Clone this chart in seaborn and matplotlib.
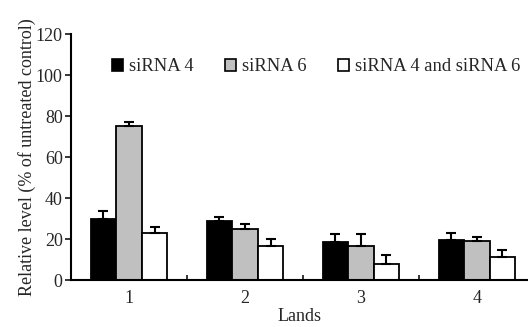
import numpy as np
import pandas as pd
import matplotlib
matplotlib.use("Agg")
import matplotlib.pyplot as plt
import seaborn as sns
from matplotlib.patches import Patch

lands = ["1", "2", "3", "4"]
series = ["siRNA 4", "siRNA 6", "siRNA 4 and siRNA 6"]
sirna4 = [30, 29, 18.5, 19.5]
sirna6 = [75, 25, 16.5, 19]
both = [23, 16.5, 8, 11]
err4 = [3.5, 1.5, 4, 3.5]
err6 = [2, 2.2, 6, 2]
err_both = [3, 3.5, 4, 3.5]

colors = ["#000000", "#c0c0c0", "#ffffff"]

sns.set_theme(style="white")
plt.rcParams["font.family"] = ["Liberation Serif", "DejaVu Serif"]

df = pd.DataFrame({
    "land": lands * 3,
    "series": np.repeat(series, 4),
    "value": sirna4 + sirna6 + both,
})
errs = [err4, err6, err_both]

fig = plt.figure(figsize=(5.28, 3.27), dpi=100)
ax = fig.add_axes([0.1345, 0.1437, 0.8655, 0.7523])

sns.barplot(data=df, x="land", y="value", hue="series", hue_order=series,
            palette=colors, width=0.66, gap=0, edgecolor="black", linewidth=1.3,
            errorbar=None, legend=False, ax=ax)

# one-sided error bars on top of each bar
for cont, e in zip(ax.containers, errs):
    xs = [b.get_x() + b.get_width() / 2 for b in cont]
    hs = [b.get_height() for b in cont]
    ax.errorbar(xs, hs, yerr=[np.zeros(len(e)), e], fmt="none",
                ecolor="black", elinewidth=1.5, capsize=3.5, capthick=1.5)

ax.set_xlim(-0.5, 3.44)
ax.set_ylim(0, 120)
ax.set_yticks(range(0, 121, 20))
ax.set_xticks([0.5, 1.5, 2.5], minor=True)
ax.tick_params(axis="x", which="major", length=0, labelsize=13, pad=7)
ax.tick_params(axis="x", which="minor", direction="in", length=3.5, width=1.3, bottom=True)
ax.tick_params(axis="y", direction="out", length=4, width=1.3, left=True, labelsize=13, pad=2)
for s in ["top", "right"]:
    ax.spines[s].set_visible(False)
for s in ["left", "bottom"]:
    ax.spines[s].set_linewidth(1.5)
    ax.spines[s].set_color("black")

ax.set_xlabel("Lands", fontsize=13, labelpad=1)
ax.set_ylabel("Relative level (% of untreated control)", fontsize=13, labelpad=0)

handles = [Patch(facecolor=c, edgecolor="black", linewidth=1.2) for c in colors]
ax.legend(handles, series, loc="center left", bbox_to_anchor=(0.09, 0.866),
          ncol=3, frameon=False, fontsize=13.4, handlelength=0.6, handleheight=0.65,
          handletextpad=0.3, columnspacing=1.7, borderpad=0, borderaxespad=0)

fig.savefig("out.png", dpi=100)
